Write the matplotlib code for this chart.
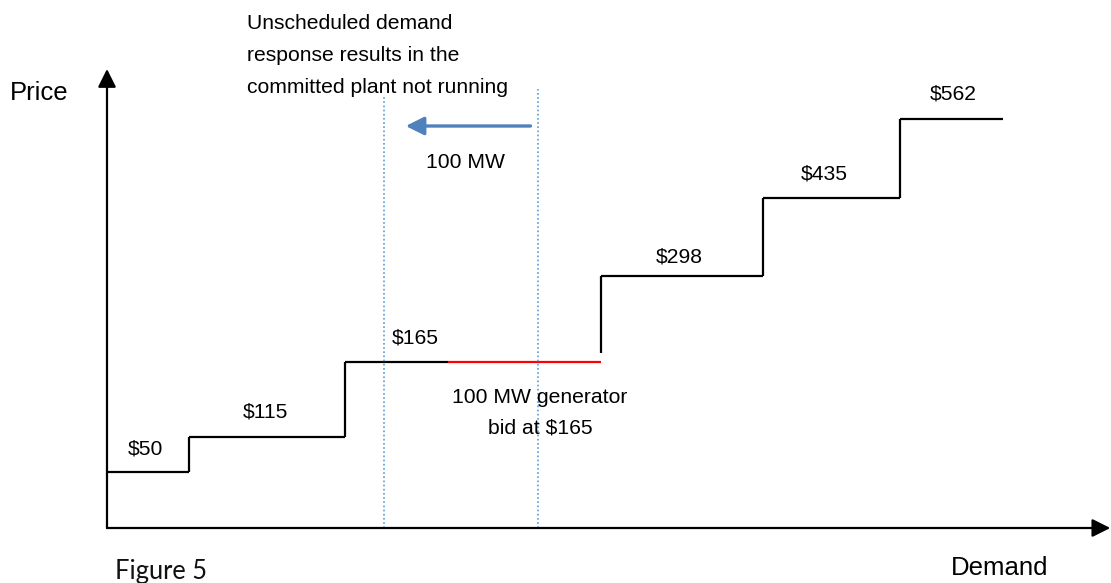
import matplotlib
matplotlib.use("Agg")
import matplotlib.pyplot as plt

# ---- data (schematic supply stack) ----
prices = ["$50", "$115", "$165", "$298", "$435", "$562"]
step_edges = [0, 53.2, 154.5, 320.8, 426, 515, 582]   # MW boundaries of each bid block
step_level = [56, 91, 166, 252, 330, 409]             # schematic height of each block
red_start = 221.4                                     # committed 100 MW generator block
dr_lines = [180, 280]                                 # demand before / after response

PX = 1.54  # px per MW
fig = plt.figure(figsize=(11.11, 5.83), dpi=100)
ax = fig.add_axes([0, 0, 1, 1])
ax.set_xlim(-107 / PX, (1111 - 107) / PX)
ax.set_ylim(-(583 - 528), 528)
ax.axis("off")

FONT = "Liberation Sans"
blk = "black"
FS = 15.2

head = "-|>,head_length=1.1,head_width=0.55"
# axes arrows
ax.annotate("", xy=(0, 459), xytext=(0, 0),
            arrowprops=dict(arrowstyle=head, color=blk, lw=1.6, shrinkA=0, shrinkB=0))
ax.annotate("", xy=(651.5, 0), xytext=(0, 0),
            arrowprops=dict(arrowstyle=head, color=blk, lw=1.6, shrinkA=0, shrinkB=0))

# steps
for i, lvl in enumerate(step_level):
    x0, x1 = step_edges[i], step_edges[i + 1]
    if i == 2:
        ax.plot([x0, red_start], [lvl, lvl], color=blk, lw=1.6, solid_capstyle="butt")
        ax.plot([red_start, x1], [lvl, lvl], color="#ff0000", lw=1.6, solid_capstyle="butt")
    else:
        ax.plot([x0, x1], [lvl, lvl], color=blk, lw=1.6, solid_capstyle="butt")
    if i + 1 < len(step_level):
        y_lo = lvl + (9 if i == 2 else 0)
        ax.plot([x1, x1], [y_lo, step_level[i + 1]], color=blk, lw=1.6, solid_capstyle="butt")

# price labels
label_pos = [(25.3, 79), (102.6, 116), (200, 190), (371.4, 271), (465.6, 354), (549.4, 434)]
for p, (lx, ly) in zip(prices, label_pos):
    ax.text(lx, ly, p, fontsize=FS, family=FONT, ha="center", va="center")

# demand response dotted lines
for d, top in zip(dr_lines, [433, 439]):
    ax.plot([d, d], [0, top], color="#5b9bd5", lw=1.2, ls=(0, (1, 1.5)))

# arrow of demand response
ax.annotate("", xy=(194, 402), xytext=(275, 402),
            arrowprops=dict(arrowstyle="-|>,head_length=1.1,head_width=0.55", color="#4f81bd",
                            lw=2.4, shrinkA=0, shrinkB=0))
ax.text(232.5, 366, "100 MW", fontsize=FS, family=FONT, ha="center", va="center")

ax.text(90.9, 472.5, "Unscheduled demand\nresponse results in the\ncommitted plant not running",
        fontsize=FS, family=FONT, ha="left", va="center", linespacing=1.86)

ax.text(281.2, 115.5, "100 MW generator\nbid at $165", fontsize=FS, family=FONT,
        ha="center", va="center", linespacing=1.76)

ax.text(-63, 435, "Price", fontsize=18.5, family=FONT, ha="left", va="center")
ax.text(611, -40, "Demand", fontsize=18.5, family=FONT, ha="right", va="center")
ax.text(5.2, -44, "Figure 5", fontsize=18.4, family="Lato", ha="left", va="center",
        color="#111111")

fig.savefig("out.png", dpi=100)
